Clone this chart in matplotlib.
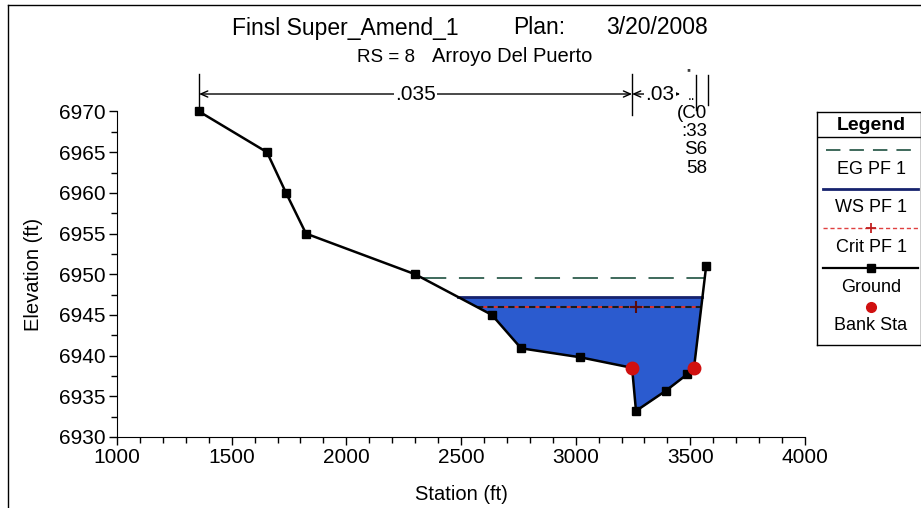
import numpy as np
import matplotlib
matplotlib.use("Agg")
import matplotlib.pyplot as plt
from matplotlib.lines import Line2D
from matplotlib.ticker import MultipleLocator

plt.rcParams['font.family'] = ['Liberation Sans', 'DejaVu Sans']

# ---------------- data ----------------
station = [1358, 1654, 1737, 1824, 2300, 2635, 2762, 3019, 3246, 3263, 3394, 3486, 3516, 3569]
elevation = [6970.0, 6965.0, 6960.0, 6955.0, 6950.0, 6945.0, 6940.9, 6939.8, 6938.5, 6933.2, 6935.7, 6937.7, 6938.5, 6951.0]
bank_sta = [3246, 3516]
ws_elev = 6947.2
eg_elev = 6949.6
crit_elev = 6946.0
n_values = [".035", ".03"]
stack_labels = ["(C0", ":33", "S6", "58"]
title_parts = ["Finsl Super_Amend_1", "Plan:", "3/20/2008"]
subtitle_parts = ["RS = 8", "Arroyo Del Puerto"]
legend_labels = ["EG PF 1", "WS PF 1", "Crit PF 1", "Ground", "Bank Sta"]

st = np.array(station, float)
el = np.array(elevation, float)


def crossings(level):
    xs = []
    for i in range(len(st) - 1):
        e0, e1 = el[i] - level, el[i + 1] - level
        if e0 == 0:
            xs.append(st[i])
        elif e0 * e1 < 0:
            t = e0 / (e0 - e1)
            xs.append(st[i] + t * (st[i + 1] - st[i]))
    return min(xs), max(xs)


W, H = 921, 508
fig = plt.figure(figsize=(W / 100, H / 100), dpi=100)
fig.patch.set_facecolor('white')

L, R, T, B = 117, 805, 111.5, 437
ax = fig.add_axes([L / W, (H - B) / H, (R - L) / W, (B - T) / H])
ax.set_xlim(1000, 4000)
ax.set_ylim(6930, 6970)
for s in ['top', 'right']:
    ax.spines[s].set_visible(False)
ax.xaxis.set_major_locator(MultipleLocator(500))
ax.xaxis.set_minor_locator(MultipleLocator(100))
ax.yaxis.set_major_locator(MultipleLocator(5))
ax.yaxis.set_minor_locator(MultipleLocator(2.5))
ax.tick_params(which='major', length=6, width=1, labelsize=15, direction='out', pad=2)
ax.tick_params(which='minor', length=4, width=1, direction='out')
ax.set_xlabel("Station (ft)", fontsize=14.5, labelpad=13)
ax.set_ylabel("Elevation (ft)", fontsize=14.5, labelpad=12)

# water fill
ax.fill_between(st, el, ws_elev, where=el <= ws_elev, interpolate=True,
                color='#2b5bcf', zorder=1, lw=0)

# WS line
wl, wr = crossings(ws_elev)
ax.plot([wl, wr], [ws_elev, ws_elev], color='#16236e', lw=2, zorder=3)
# EG line
el_, er_ = crossings(eg_elev)
ax.plot([el_, er_], [eg_elev, eg_elev], color='#2f5e4e', lw=1.3,
        ls=(0, (14, 7)), zorder=3)
# Crit line
cl, cr = crossings(crit_elev)
ax.plot([cl, cr], [crit_elev, crit_elev], color='#1a1a1a', lw=1.5,
        ls=(0, (3, 2)), gapcolor='#d83030', zorder=3)
ax.plot([st[np.argmin(el)]], [crit_elev], marker='+', color='#5a0a0a',
        ms=8, mew=1.5, zorder=4)

# ground
ax.plot(st, el, color='black', lw=1.8, marker='s', ms=6, zorder=5, clip_on=False)
# bank stations
bank_el = np.interp(bank_sta, st, el)
ax.plot(bank_sta, bank_el, 'o', color='#d01010', ms=9, zorder=10, ls='none')

# ---------- n-value annotations above plot ----------
kw = dict(clip_on=False, color='black', lw=1)
ax.plot([st[0], st[0]], [6974.6, el[0]], **kw)
ax.plot([bank_sta[0]] * 2, [6974.6, 6969.6], **kw)
ax.plot([bank_sta[1] + 8] * 2, [6974.5, 6970.2], **kw)
ax.plot([st[-1] + 8] * 2, [6974.5, 6970.8], **kw)
ya = 6972.15
ax.annotate('', xy=(st[0], ya), xytext=(bank_sta[0], ya),
            arrowprops=dict(arrowstyle='<->,head_length=0.5,head_width=0.22', lw=1,
                            shrinkA=0, shrinkB=0), annotation_clip=False)
ax.text((st[0] + bank_sta[0]) / 2, ya, n_values[0], ha='center', va='center',
        fontsize=15, bbox=dict(facecolor='white', edgecolor='none', pad=1), clip_on=False)
ax.annotate('', xy=(bank_sta[0], ya), xytext=(bank_sta[1] - 60, ya),
            arrowprops=dict(arrowstyle='<->,head_length=0.5,head_width=0.22', lw=1,
                            shrinkA=0, shrinkB=0), annotation_clip=False)
ax.text(bank_sta[0] + 122, ya, n_values[1], ha='center', va='center',
        fontsize=15, bbox=dict(facecolor='white', edgecolor='none', pad=1), clip_on=False)
ax.text(bank_sta[1] - 25, 6974.6, "''", ha='center', va='center', fontsize=9, clip_on=False)
ax.text(bank_sta[1] - 10, 6971.9, "..", ha='center', va='center', fontsize=10, clip_on=False)
for i, lab in enumerate(stack_labels):
    ax.text(st[-1] + 6, 6969.8 - i * 2.25, lab, ha='right', va='center',
            fontsize=13.5, clip_on=False)

# ---------- titles ----------
fig.text(232 / W, 1 - 28 / H, title_parts[0], fontsize=16.5, ha='left', va='center')
fig.text(513 / W, 1 - 28 / H, title_parts[1], fontsize=16.5, ha='left', va='center')
fig.text(606 / W, 1 - 28 / H, title_parts[2], fontsize=16.5, ha='left', va='center')
fig.text(415 / W, 1 - 57 / H, subtitle_parts[0], fontsize=13.5, ha='right', va='center')
fig.text(432 / W, 1 - 57 / H, subtitle_parts[1], fontsize=14.5, ha='left', va='center')

# outer frame
fig.add_artist(Line2D([8 / W, 8 / W], [0, 1 - 5 / H], transform=fig.transFigure, color='black', lw=1))
fig.add_artist(Line2D([8 / W, 1], [1 - 5 / H, 1 - 5 / H], transform=fig.transFigure, color='black', lw=1))

# ---------- legend ----------
lx0, lx1, ly0, ly1 = 817, 921, 112, 345
lax = fig.add_axes([lx0 / W, (H - ly1) / H, (lx1 - lx0) / W, (ly1 - ly0) / H])
lax.set_xlim(lx0, lx1)
lax.set_ylim(ly1, ly0)
lax.set_xticks([])
lax.set_yticks([])
for s in lax.spines.values():
    s.set_linewidth(1)
cx = 871
lax.text(cx, 125, "Legend", ha='center', va='center', fontsize=14, fontweight='bold')
lax.plot([lx0, lx1], [137, 137], color='black', lw=1)
lax.plot([826, 916], [150, 150], color='#2f5e4e', lw=1.3, ls=(0, (8, 5)))
lax.text(cx, 170, legend_labels[0], ha='center', va='center', fontsize=13)
lax.plot([823, 918], [189, 189], color='#16236e', lw=2)
lax.text(cx, 208, legend_labels[1], ha='center', va='center', fontsize=13)
lax.plot([823, 918], [228, 228], color='#e04040', lw=1, ls=(0, (3, 2)))
lax.plot([cx], [228], marker='+', color='#c02020', ms=7, mew=1.3)
lax.text(cx, 247, legend_labels[2], ha='center', va='center', fontsize=13)
lax.plot([823, 918], [268, 268], color='black', lw=1.6)
lax.plot([cx], [268], marker='s', color='black', ms=6)
lax.text(cx, 287, legend_labels[3], ha='center', va='center', fontsize=13)
lax.plot([cx], [307], marker='o', color='#d01010', ms=7)
lax.text(cx, 325, legend_labels[4], ha='center', va='center', fontsize=13)

fig.savefig("out.png", dpi=100)
